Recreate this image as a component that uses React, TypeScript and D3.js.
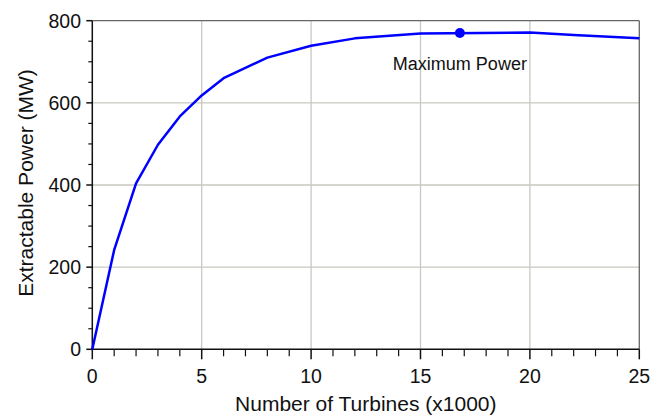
import React from "react";
import * as d3 from "d3";

// Turbine count (thousands) and extractable power (MW)
const turbines = [0, 1, 2, 3, 4, 5, 6, 8, 10, 12, 15, 20, 22, 25];
const power = [0, 242, 404, 498, 567, 618, 660, 710, 739, 757, 769, 771, 765, 757];

const maxPoint = { turbines: 16.8, power: 770, label: "Maximum Power" };

const xTicks = [0, 5, 10, 15, 20, 25];
const yTicks = [0, 200, 400, 600, 800];

const W = 662;
const H = 417;
const margin = { left: 92.3, right: 22.7, top: 20.7, bottom: 67.7 };

export default function App() {
  const x = d3.scaleLinear().domain([0, 25]).range([margin.left, W - margin.right]);
  const y = d3.scaleLinear().domain([0, 800]).range([H - margin.bottom, margin.top]);

  const line = d3
    .line<number>()
    .x((_, i) => x(turbines[i]))
    .y((d) => y(d));

  const xMinor = d3.range(0, 26, 1);
  const yMinor = d3.range(0, 801, 50);
  const font = "'Liberation Sans', Arial, sans-serif";
  const x0 = x(0);
  const x1 = x(25);
  const y0 = y(0);
  const y1 = y(800);

  return (
    <svg
      width={W}
      height={H}
      style={{ position: "absolute", left: 0, top: 0, background: "#fff" }}
      fontFamily={font}
    >
      {/* grid */}
      {xTicks.slice(1, -1).map((t) => (
        <line key={"gx" + t} x1={x(t)} x2={x(t)} y1={y0} y2={y1} stroke="#c9c9c1" strokeWidth={1.3} />
      ))}
      {yTicks.slice(1, -1).map((t) => (
        <line key={"gy" + t} x1={x0} x2={x1} y1={y(t)} y2={y(t)} stroke="#c9c9c1" strokeWidth={1.3} />
      ))}

      {/* frame top / right */}
      <line x1={x0} x2={x1} y1={y1} y2={y1} stroke="#666" strokeWidth={1.3} />
      <line x1={x1} x2={x1} y1={y1} y2={y0} stroke="#666" strokeWidth={1.3} />

      {/* x axis */}
      <line x1={x0} x2={x1} y1={y0} y2={y0} stroke="#111" strokeWidth={1.5} />
      {xMinor.map((t) => {
        const major = t % 5 === 0;
        return (
          <line
            key={"xt" + t}
            x1={x(t)}
            x2={x(t)}
            y1={y0}
            y2={y0 + (major ? 10 : 7)}
            stroke="#111"
            strokeWidth={major ? 1.5 : 1.2}
          />
        );
      })}
      {xTicks.map((t) => (
        <text key={"xl" + t} x={x(t)} y={y0 + 34} fontSize={19.5} textAnchor="middle" fill="#111">
          {t}
        </text>
      ))}

      {/* y axis */}
      <line x1={x0} x2={x0} y1={y0} y2={y1} stroke="#111" strokeWidth={1.5} />
      {yMinor.map((t) => {
        const major = t % 200 === 0;
        return (
          <line
            key={"yt" + t}
            x1={x0 - (major ? 6 : 4)}
            x2={x0}
            y1={y(t)}
            y2={y(t)}
            stroke="#111"
            strokeWidth={major ? 1.5 : 1.2}
          />
        );
      })}
      {yTicks.map((t) => (
        <text key={"yl" + t} x={81} y={y(t)} dy="0.36em" fontSize={19.5} textAnchor="end" fill="#111">
          {t}
        </text>
      ))}

      {/* axis titles */}
      <text x={(x0 + x1) / 2} y={411} fontSize={21} textAnchor="middle" fill="#111">
        Number of Turbines (x1000)
      </text>
      <text
        transform={`translate(33,${(y0 + y1) / 2 - 2}) rotate(-90)`}
        fontSize={21}
        textAnchor="middle"
        fill="#111"
      >
        Extractable Power (MW)
      </text>

      {/* curve */}
      <path d={line(power) ?? ""} fill="none" stroke="#0000ff" strokeWidth={2.5} strokeLinejoin="round" />

      {/* maximum marker */}
      <circle cx={x(maxPoint.turbines)} cy={y(maxPoint.power)} r={5} fill="#0000ff" />
      <text x={x(maxPoint.turbines)} y={70} fontSize={18} textAnchor="middle" fill="#111">
        {maxPoint.label}
      </text>
    </svg>
  );
}
